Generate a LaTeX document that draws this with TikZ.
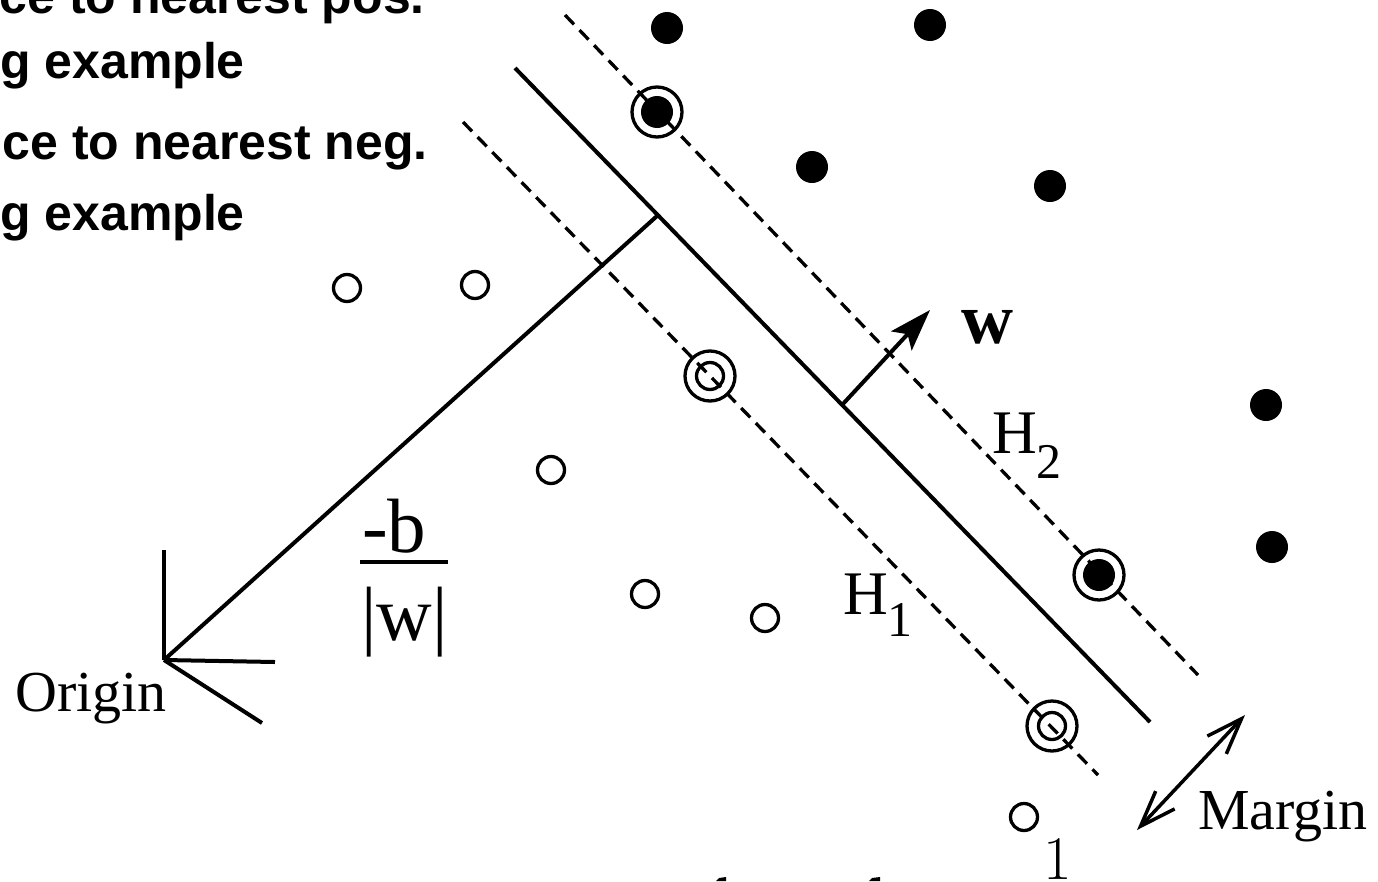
\documentclass[tikz,border=0pt]{standalone}
\usepackage{fontspec}
\setmainfont{Liberation Serif}
\newfontfamily\headfont{Liberation Sans}
\newfontfamily\lmfont{Latin Modern Roman}
\usetikzlibrary{arrows.meta}
\tikzset{
  solidln/.style={line width=4pt},
  marginln/.style={line width=3.3pt, dash pattern=on 13pt off 8pt},
  posdot/.style={circle, fill=black, inner sep=0pt, minimum size=32pt},
  negdot/.style={circle, draw=black, line width=3.3pt, inner sep=0pt, minimum size=27pt},
  svring/.style={circle, draw=black, line width=3.3pt, inner sep=0pt, minimum size=50pt},
  headtxt/.style={inner sep=0pt, anchor=base east, font=\headfont\bfseries\fontsize{50pt}{50pt}\selectfont},
  serif/.style={inner sep=0pt, font=\fontsize{58pt}{58pt}\selectfont},
  bigserif/.style={inner sep=0pt, font=\fontsize{77pt}{77pt}\selectfont},
}
\begin{document}
\begin{tikzpicture}[x=1pt,y=-1pt]
\useasboundingbox (0,0) rectangle (1378,881);
\clip (0,0) rectangle (1378,881);

% header text (cropped)
\node[headtxt] (t1) at (425,13) {ce to nearest pos.};
\node[headtxt] (t2) at (245,78) {g example};
\node[headtxt] (t3) at (428,159) {ce to nearest neg.};
\node[headtxt] (t4) at (245,230) {g example};

% hyperplanes
\coordinate (H1a) at (463,122);
\coordinate (H1b) at (1098,775);
\coordinate (H0a) at (515,68);
\coordinate (H0b) at (1150,722);
\coordinate (H2a) at (565,15);
\coordinate (H2b) at (1198,675);
\draw[marginln] (H1a) -- (H1b);
\draw[marginln] (H2a) -- (H2b);
\draw[solidln] (H0a) -- (H0b);

% origin and perpendicular
\coordinate (O) at (164,660);
\coordinate (F) at (657,216);
\coordinate (Ou) at (164,550);
\coordinate (Or) at (275,662);
\coordinate (Od) at (262,723);
\draw[solidln] (F) -- (O);
\draw[solidln] (O) -- (Ou);
\draw[solidln] (O) -- (Or);
\draw[solidln] (O) -- (Od);

% w vector
\coordinate (W0) at (842,405);
\coordinate (W1) at (930,310);
\draw[solidln, -{Stealth[length=42pt,width=28pt,inset=9pt]}] (W0) -- (W1);

% margin arrow
\coordinate (M0) at (1137,830);
\coordinate (M1) at (1245,715);
\draw[line width=3.5pt, {Straight Barb[length=36pt,width=26pt]}-{Straight Barb[length=36pt,width=26pt]}] (M0) -- (M1);

% positive points
\node[posdot] (p1) at (667,28) {};
\node[posdot] (p2) at (930,25) {};
\node[posdot] (p3) at (812,167) {};
\node[posdot] (p4) at (1050,186) {};
\node[posdot] (p5) at (1266,405) {};
\node[posdot] (p6) at (1272,547) {};
\node[posdot] (sp1) at (657,112) {};
\node[svring] (sp1r) at (657,112) {};
\node[posdot] (sp2) at (1099,575) {};
\node[svring] (sp2r) at (1099,575) {};

% negative points
\node[negdot] (n1) at (347,288) {};
\node[negdot] (n2) at (475,285) {};
\node[negdot] (n3) at (551,470) {};
\node[negdot] (n4) at (645,594) {};
\node[negdot] (n5) at (765,618) {};
\node[negdot] (n6) at (1024,817) {};
\node[negdot] (sn1) at (710,376) {};
\node[svring] (sn1r) at (710,376) {};
\node[negdot] (sn2) at (1052,726) {};
\node[svring] (sn2r) at (1052,726) {};

% labels
\node[serif, anchor=base west] (lo) at (15,711) {Origin};
\node[serif, anchor=base west] (lm) at (1198,829) {Margin};
\node[inner sep=0pt, anchor=base, font=\bfseries\fontsize{72pt}{72pt}\selectfont] (lw) at (987,343) {w};
\node[inner sep=0pt, anchor=base west, font=\fontsize{62pt}{62pt}\selectfont] (lh2) at (992,453) {H\raisebox{-25pt}{\fontsize{50pt}{50pt}\selectfont 2}};
\node[inner sep=0pt, anchor=base west, font=\fontsize{62pt}{62pt}\selectfont] (lh1) at (843,614) {H\raisebox{-22pt}{\fontsize{50pt}{50pt}\selectfont 1}};

% -b / |w|
\node[bigserif, anchor=base west] (fb) at (362,552) {-b};
\node[bigserif, anchor=base west] (fw) at (361,640) {|w|};
\draw[line width=3.8pt] (360,562) -- (448,562);

% bottom cropped formula
\node[inner sep=0pt, anchor=base, font=\lmfont\fontsize{62pt}{62pt}\selectfont] (one) at (1058,879) {1};
\fill (716,881) -- (719,878) -- (726,877) -- (726,881) -- cycle;
\fill (869,881) -- (872,878) -- (880,877) -- (880,881) -- cycle;
\end{tikzpicture}
\end{document}
